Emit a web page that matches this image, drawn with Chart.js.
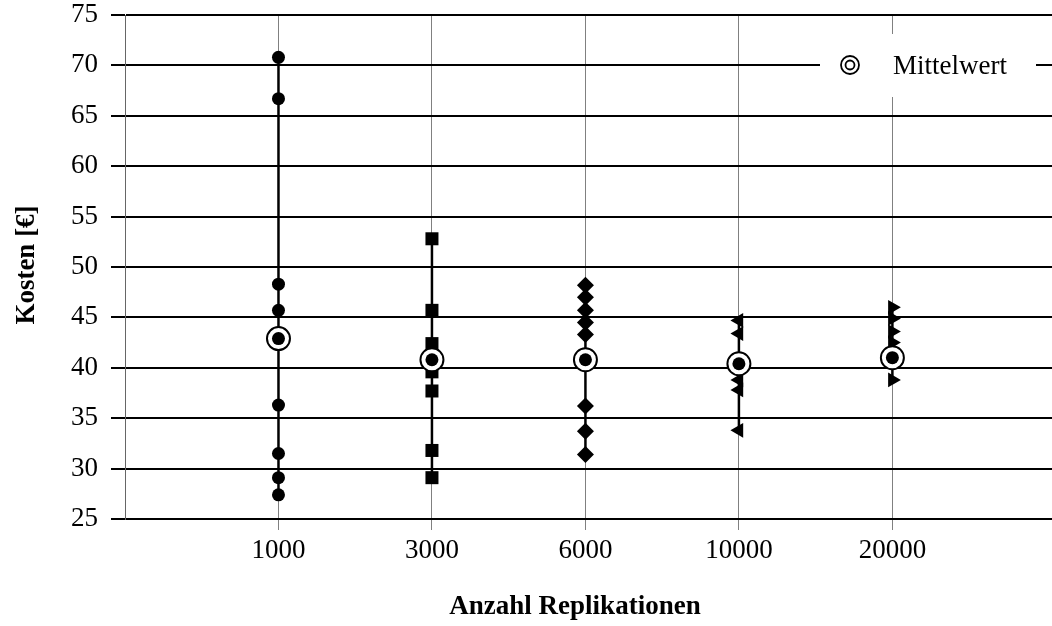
<!DOCTYPE html>
<html>
<head>
<meta charset="utf-8">
<script src="https://cdn.jsdelivr.net/npm/chart.js@4/dist/chart.umd.min.js"></script>
<style>
  html, body { margin: 0; padding: 0; background: #fff; }
  #wrap { width: 1052px; height: 626px; }
</style>
</head>
<body>
<div id="wrap"><canvas id="c" width="1052" height="626"></canvas></div>
<script>
// Replication counts shown on the x axis (evenly spaced categories)
const categories = ['1000', '3000', '6000', '10000', '20000'];
const categoryPos = [1, 2, 3, 4, 5];

// Cost results of the individual runs per replication count [€]
const costs1000  = [70.8, 66.7, 48.3, 45.7, 36.3, 31.5, 29.1, 27.4];
const costs3000  = [52.8, 45.7, 42.4, 39.6, 37.7, 31.8, 29.1];
const costs6000  = [48.2, 47.0, 45.7, 44.5, 43.3, 36.2, 33.7, 31.4];
const costs10000 = [44.7, 43.4, 38.8, 37.8, 33.8];
const costs20000 = [46.0, 44.9, 43.6, 42.5, 38.8];

// Mean cost per replication count [€]
const means = [42.9, 40.8, 40.8, 40.4, 41.0];

// y axis range and step
const yMin = 25, yMax = 75, yStep = 5;

const SERIF = "'Liberation Serif', 'Times New Roman', serif";
const FS = 27;

const series = [costs1000, costs3000, costs6000, costs10000, costs20000];
const markerStyles = [
  { pointStyle: 'circle',   radius: 6.5, rotation: 0 },
  { pointStyle: 'rect',     radius: 9.2, rotation: 0 },
  { pointStyle: 'rectRot',  radius: 8.5, rotation: 0 },
  { pointStyle: 'triangle', radius: 8.5, rotation: -90 },
  { pointStyle: 'triangle', radius: 8.5, rotation: 90 }
];

const datasets = [];

// range line (min to max) for every replication count
series.forEach((vals, i) => {
  datasets.push({
    type: 'line',
    data: [{ x: categoryPos[i], y: Math.min(...vals) }, { x: categoryPos[i], y: Math.max(...vals) }],
    borderColor: '#000',
    borderWidth: 2.5,
    pointRadius: 0,
    fill: false,
    order: 4
  });
});

// individual run results
series.forEach((vals, i) => {
  const m = markerStyles[i];
  datasets.push({
    type: 'scatter',
    data: vals.map(v => ({ x: categoryPos[i], y: v })),
    pointStyle: m.pointStyle,
    pointRadius: m.radius,
    rotation: m.rotation,
    backgroundColor: '#000',
    borderColor: '#000',
    borderWidth: 0,
    order: 3
  });
});

// mean marker: white ring with black border + black centre dot
datasets.push({
  type: 'scatter',
  label: 'Mittelwert',
  data: means.map((v, i) => ({ x: categoryPos[i], y: v })),
  pointStyle: 'circle',
  pointRadius: 11.5,
  backgroundColor: '#fff',
  borderColor: '#000',
  borderWidth: 2,
  order: 1
});
datasets.push({
  type: 'scatter',
  data: means.map((v, i) => ({ x: categoryPos[i], y: v })),
  pointStyle: 'circle',
  pointRadius: 6.5,
  backgroundColor: '#000',
  borderWidth: 0,
  order: 0
});

// axis titles drawn as canvas text
const axisTitles = {
  id: 'axisTitles',
  afterDraw(chart) {
    const ctx = chart.ctx;
    ctx.save();
    ctx.fillStyle = '#000';
    ctx.font = 'bold ' + FS + 'px ' + SERIF;
    ctx.textAlign = 'center';
    ctx.textBaseline = 'middle';
    ctx.fillText('Anzahl Replikationen', 575, 607);
    ctx.translate(27, 265);
    ctx.rotate(-Math.PI / 2);
    ctx.fillText('Kosten [€]', 0, 0);
    ctx.restore();
  }
};

// legend box inside the plot area
const meanLegend = {
  id: 'meanLegend',
  afterDraw(chart) {
    const ctx = chart.ctx;
    ctx.save();
    ctx.fillStyle = '#fff';
    ctx.fillRect(820, 34, 216, 63);
    ctx.strokeStyle = '#000';
    ctx.lineWidth = 1.8;
    ctx.beginPath(); ctx.arc(850, 65, 9, 0, Math.PI * 2); ctx.stroke();
    ctx.beginPath(); ctx.arc(850, 65, 4.5, 0, Math.PI * 2); ctx.stroke();
    ctx.fillStyle = '#000';
    ctx.font = FS + 'px ' + SERIF;
    ctx.textAlign = 'left';
    ctx.textBaseline = 'middle';
    ctx.fillText('Mittelwert', 893, 67);
    ctx.restore();
  }
};

new Chart(document.getElementById('c'), {
  type: 'scatter',
  data: { datasets },
  options: {
    responsive: false,
    animation: false,
    layout: { autoPadding: false, padding: { top: 15, right: 0, bottom: 0, left: 0 } },
    plugins: { legend: { display: false }, tooltip: { enabled: false } },
    scales: {
      x: {
        type: 'linear',
        min: 0,
        max: 6.04,
        afterBuildTicks(scale) { scale.ticks = categoryPos.map(v => ({ value: v })); },
        afterFit(scale) {
          scale.height = 107;
          scale.paddingLeft = 0; scale.paddingRight = 0;
        },
        ticks: {
          autoSkip: false,
          maxRotation: 0,
          padding: 5,
          color: '#000',
          font: { family: SERIF, size: FS },
          callback: (v) => categories[categoryPos.indexOf(v)] ?? ''
        },
        grid: { color: '#808080', lineWidth: 1, tickLength: 11, drawOnChartArea: true },
        border: { display: false }
      },
      y: {
        min: yMin,
        max: yMax,
        afterFit(scale) {
          scale.width = 125;
          scale.paddingTop = 0; scale.paddingBottom = 0;
        },
        ticks: {
          stepSize: yStep,
          padding: 13,
          color: '#000',
          font: { family: SERIF, size: FS }
        },
        grid: { color: '#000', lineWidth: 2, tickLength: 14 },
        border: { display: true, color: '#666', width: 1 }
      }
    }
  },
  plugins: [axisTitles, meanLegend]
});
</script>
</body>
</html>
